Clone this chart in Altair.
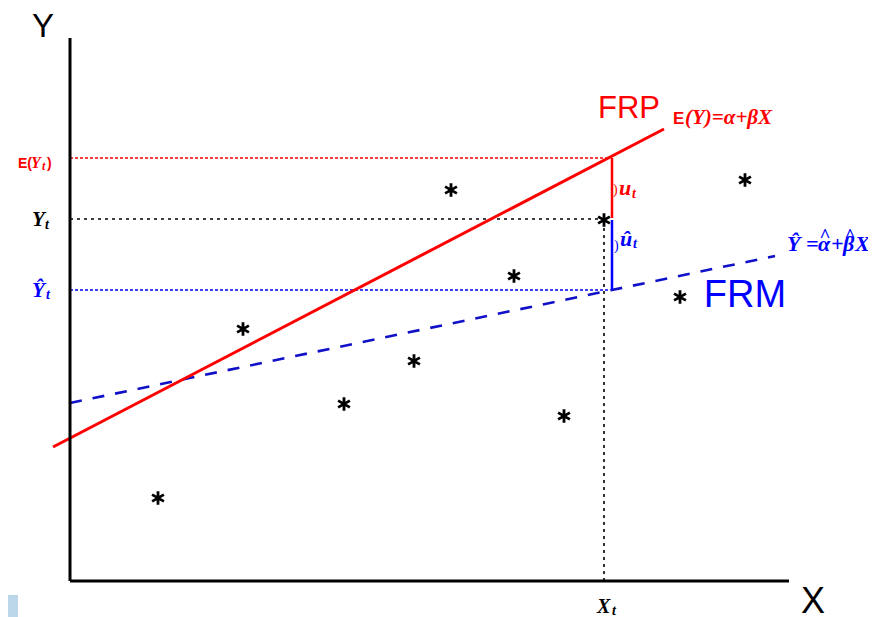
import altair as alt
import pandas as pd

# ---------------- data (units: arbitrary, origin at the axes corner) ----------------
# observations "*"
obs_x = [381, 675, 534, 444, 610, 173, 344, 274, 494, 88]
obs_y = [391, 401, 361, 305, 284, 252, 220, 177, 165, 83]

# population regression function FRP : E(Y) = alpha + beta X  (end points)
frp_x = [-17, 594]
frp_y = [134, 452]

# sample regression function FRM : Yhat = alpha_hat + beta_hat X (end points)
frm_x = [0, 705]
frm_y = [178, 325]

# reference values at X_t
x_t = 534
y_t = 362
ey_t = 423
yhat_t = 291
x_max = 719
y_max = 543

RED = "#ff0000"
BLUE = "#0000ff"
DBLUE = "#1010c8"

X_SC = alt.Scale(domain=[0, 720], nice=False, zero=False)
Y_SC = alt.Scale(domain=[0, 540], nice=False, zero=False)


def seg_layer(rows, color, width, dash=None):
    df = pd.DataFrame(rows, columns=["x", "y", "x2", "y2"])
    kw = dict(color=color, strokeWidth=width, clip=False)
    if dash:
        kw["strokeDash"] = dash
    return alt.Chart(df).mark_rule(**kw).encode(
        x=alt.X("x:Q", scale=X_SC, axis=None),
        y=alt.Y("y:Q", scale=Y_SC, axis=None),
        x2="x2:Q",
        y2="y2:Q",
    )


def line_layer(xs, ys, color, width, dash=None):
    df = pd.DataFrame({"x": xs, "y": ys, "o": list(range(len(xs)))})
    kw = dict(color=color, strokeWidth=width, clip=False)
    if dash:
        kw["strokeDash"] = dash
    return alt.Chart(df).mark_line(**kw).encode(
        x=alt.X("x:Q", scale=X_SC, axis=None),
        y=alt.Y("y:Q", scale=Y_SC, axis=None),
        order="o:Q",
    )


# axes
axes = seg_layer([(0, 0, 0, y_max), (0, 0, x_max, 0)], "black", 3)

# dotted guides
red_dot = seg_layer([(0, ey_t, 539, ey_t)], RED, 1.5, [3, 2])
blk_dot = seg_layer([(0, y_t, 530, y_t), (x_t, 0, x_t, y_t - 4)], "black", 1.6, [3, 4])
blu_dot = seg_layer([(0, yhat_t, 539, yhat_t)], BLUE, 1.5, [3, 2])

# residual segments
u_red = seg_layer([(542, ey_t, 542, y_t + 1)], RED, 2.5)
u_blue = seg_layer([(542, y_t - 1, 542, yhat_t)], BLUE, 2.5)

frp = line_layer(frp_x, frp_y, RED, 3)
frm = line_layer(frm_x, frm_y, DBLUE, 2.6, [12, 11])

star_path = "M0,-1L0,1M-0.87,-0.5L0.87,0.5M-0.87,0.5L0.87,-0.5"
stars = alt.Chart(pd.DataFrame({"x": obs_x, "y": obs_y})).mark_point(
    shape=star_path, size=185, filled=False, color="black", strokeWidth=2.8,
    opacity=1, clip=False
).encode(
    x=alt.X("x:Q", scale=X_SC, axis=None),
    y=alt.Y("y:Q", scale=Y_SC, axis=None),
)

deco = alt.Chart(pd.DataFrame({"x": [-62], "x2": [-52], "y": [-14], "y2": [-36]})).mark_rect(
    color="#bcd6ea", clip=False
).encode(
    x=alt.X("x:Q", scale=X_SC, axis=None), x2="x2:Q",
    y=alt.Y("y:Q", scale=Y_SC, axis=None), y2="y2:Q",
)

# ---------------- labels ----------------
SANS = "Liberation Sans"
SERIF = "Liberation Serif"
# text, x, y, size, color, font, style, weight, align
labels = [
    ("Y", -27, 544, 33, "black", SANS, "normal", "normal", "center"),
    ("X", 743, -32, 36, "black", SANS, "normal", "normal", "center"),
    ("FRP", 559, 463, 31, RED, SANS, "normal", "normal", "center"),
    ("FRM", 675, 274, 38, BLUE, SANS, "normal", "normal", "center"),
    ("E", 603, 457, 17, RED, SANS, "normal", "bold", "left"),
    ("(Y)=α+βX", 615, 457, 21, RED, SERIF, "italic", "bold", "left"),
    ("Ŷ =", 717, 330, 22, BLUE, SERIF, "italic", "bold", "left"),
    ("α", 748, 330, 22, BLUE, SERIF, "italic", "bold", "left"),
    ("+", 761, 330, 22, BLUE, SERIF, "italic", "bold", "left"),
    ("β", 773, 330, 22, BLUE, SERIF, "italic", "bold", "left"),
    ("X", 785, 330, 22, BLUE, SERIF, "italic", "bold", "left"),
    ("^", 755, 339, 19, BLUE, SERIF, "normal", "bold", "center"),
    ("^", 780, 339, 19, BLUE, SERIF, "normal", "bold", "center"),
    ("E(", -52, 413, 14, RED, SANS, "normal", "bold", "left"),
    ("Y", -39, 413, 16, RED, SERIF, "italic", "bold", "left"),
    ("t", -28, 411, 12, RED, SERIF, "italic", "bold", "left"),
    (")", -23, 413, 14, RED, SANS, "normal", "bold", "left"),
    ("Y", -38, 355, 21, "black", SERIF, "italic", "bold", "left"),
    ("t", -25, 352, 14, "black", SERIF, "italic", "bold", "left"),
    ("Ŷ", -38, 284, 21, BLUE, SERIF, "italic", "bold", "left"),
    ("t", -24, 282, 14, BLUE, SERIF, "italic", "bold", "left"),
    ("X", 527, -32, 20, "black", SERIF, "italic", "bold", "left"),
    ("t", 542, -34, 14, "black", SERIF, "italic", "bold", "left"),
    (")", 543, 387, 14, RED, SERIF, "normal", "normal", "left"),
    ("u", 549, 386, 22, RED, SERIF, "italic", "bold", "left"),
    ("t", 562, 383, 14, RED, SERIF, "italic", "bold", "left"),
    (")", 544, 331, 14, BLUE, SERIF, "normal", "normal", "left"),
    ("û", 550, 335, 22, BLUE, SERIF, "italic", "bold", "left"),
    ("t", 563, 333, 14, BLUE, SERIF, "italic", "bold", "left"),
]

lab_df = pd.DataFrame(labels, columns=["t", "x", "y", "s", "c", "f", "st", "w", "a"])
text_layers = []
for (f, st, w, a), g in lab_df.groupby(["f", "st", "w", "a"]):
    text_layers.append(
        alt.Chart(g.reset_index(drop=True)).mark_text(
            font=f, fontStyle=st, fontWeight=w, align=a, baseline="alphabetic", clip=False
        ).encode(
            x=alt.X("x:Q", scale=X_SC, axis=None),
            y=alt.Y("y:Q", scale=Y_SC, axis=None),
            text="t:N",
            size=alt.Size("s:Q", scale=None, legend=None),
            color=alt.Color("c:N", scale=None, legend=None),
        )
    )

chart = alt.layer(
    deco, red_dot, blk_dot, blu_dot, frm, frp, axes, u_red, u_blue, stars, *text_layers
).properties(
    width=720,
    height=540,
    padding={"left": 62, "top": 33, "right": 78, "bottom": 36},
    autosize=alt.AutoSizeParams(type="none"),
    background="white",
).configure_view(stroke=None)

chart.save("out.html", embed_options={"renderer": "svg", "actions": False})
